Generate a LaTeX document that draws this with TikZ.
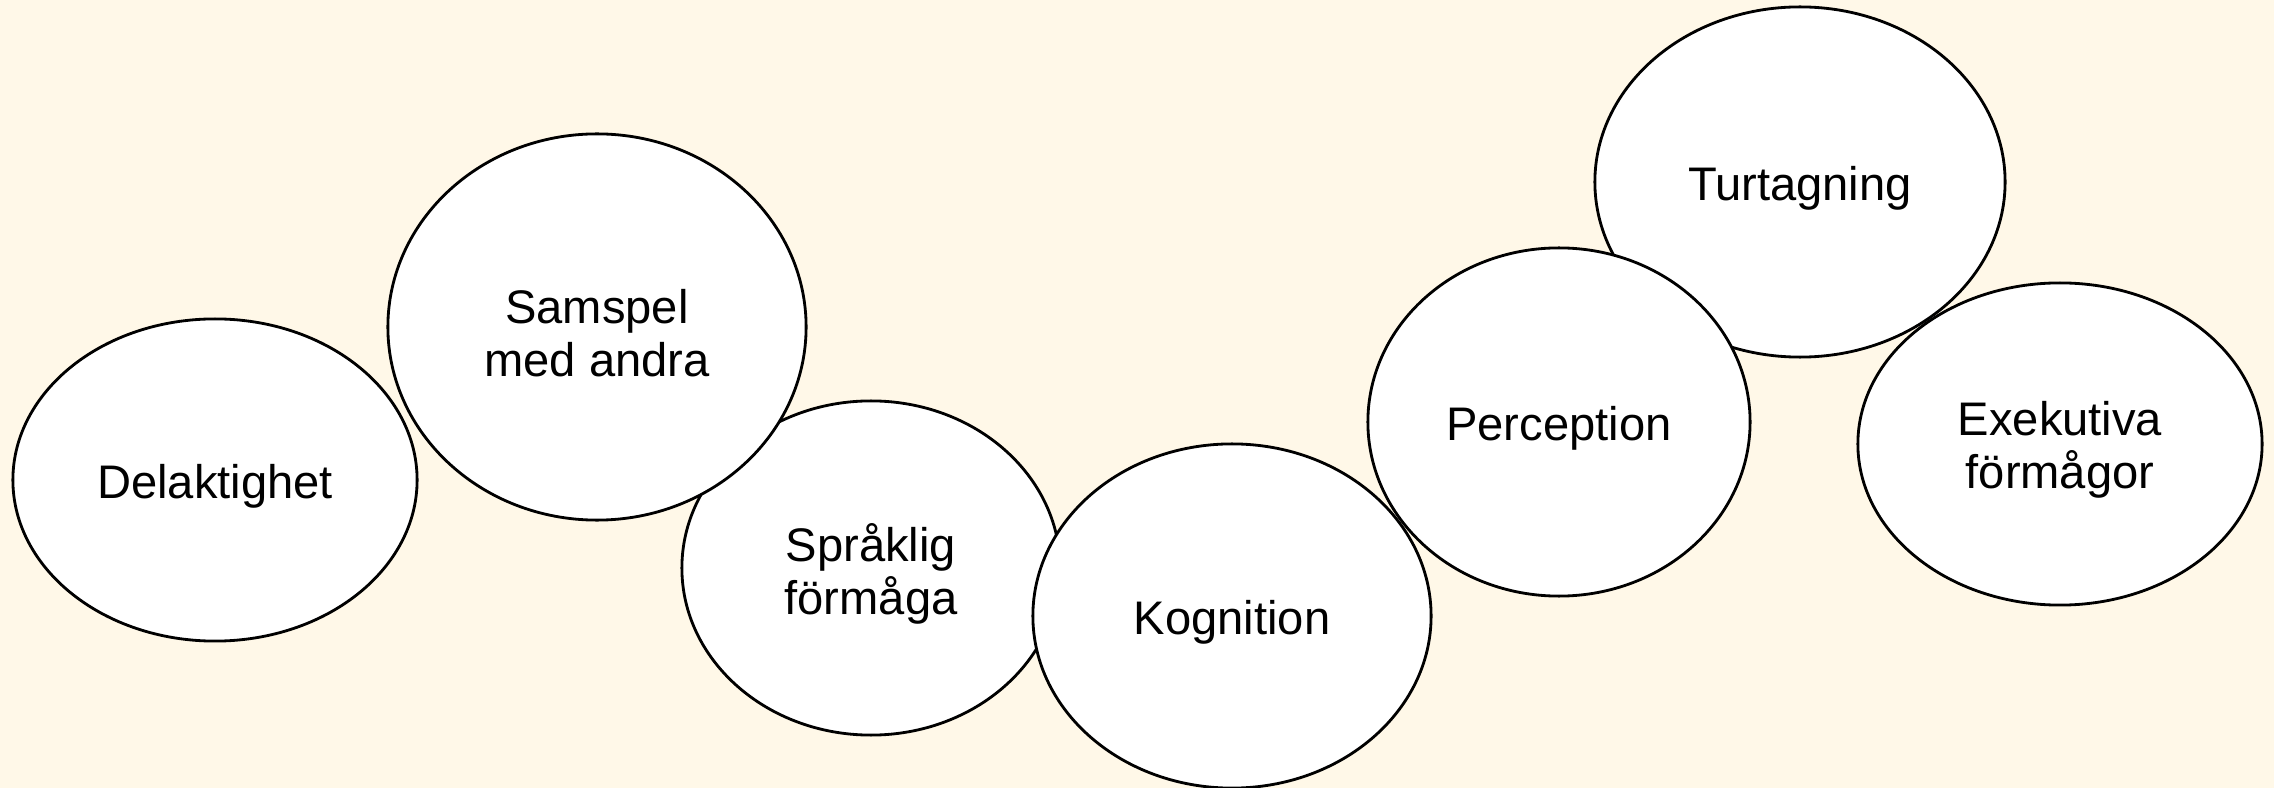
\documentclass[tikz,border=0pt]{standalone}
\usepackage{fontspec}
\setmainfont{Liberation Sans}
\usetikzlibrary{shapes.geometric}
\definecolor{bgcream}{HTML}{FFF8E8}
\tikzset{
  bubble/.style={ellipse, draw=black, line width=0.8pt, fill=white, inner sep=0pt},
  bubbletext/.style={align=center, inner sep=0pt, yshift=-0.06cm,
    font=\fontsize{13.4pt}{15.2pt}\selectfont}
}
\begin{document}
\begin{tikzpicture}[x=0.01cm, y=-0.01cm]
\fill[bgcream] (0,0) rectangle (2274,788);
\useasboundingbox (0,0) rectangle (2274,788);
\node[bubble, minimum width=4.04cm, minimum height=3.22cm,
  label={[bubbletext]center:Delaktighet}] (del) at (215,480) {};
\node[bubble, minimum width=3.78cm, minimum height=3.34cm,
  label={[bubbletext]center:Språklig\\förmåga}] (spr) at (871,568) {};
\node[bubble, minimum width=4.18cm, minimum height=3.86cm,
  label={[bubbletext]center:Samspel\\med andra}] (sam) at (597,327) {};
\node[bubble, minimum width=4.10cm, minimum height=3.50cm,
  label={[bubbletext]center:Turtagning}] (tur) at (1800,182) {};
\node[bubble, minimum width=3.98cm, minimum height=3.44cm,
  label={[bubbletext]center:Kognition}] (kog) at (1232,616) {};
\node[bubble, minimum width=3.82cm, minimum height=3.48cm,
  label={[bubbletext]center:Perception}] (per) at (1559,422) {};
\node[bubble, minimum width=4.04cm, minimum height=3.22cm,
  label={[bubbletext]center:Exekutiva\\förmågor}] (exe) at (2060,444) {};
\end{tikzpicture}
\end{document}
